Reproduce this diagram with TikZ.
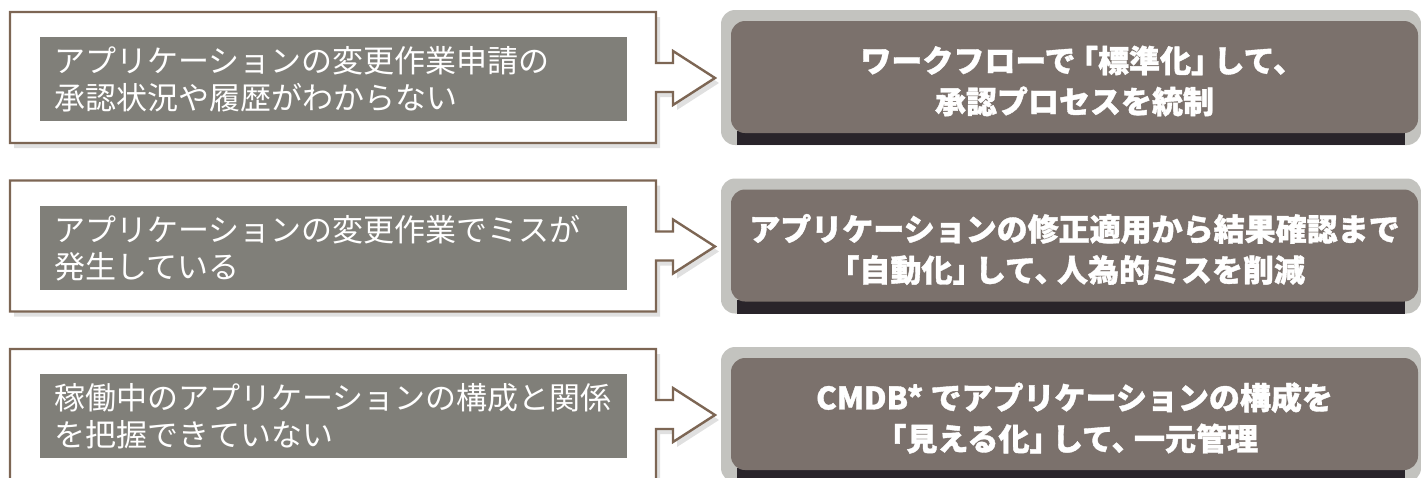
\documentclass[tikz,border=0pt]{standalone}
\usepackage{fontspec}
\setmainfont{Noto Sans CJK JP}[BoldFeatures={FakeBold=1.2}]
\usepackage{tikz}
\usetikzlibrary{shadows}
\definecolor{rimbrown}{HTML}{7D6654}
\definecolor{probgray}{HTML}{807F79}
\definecolor{solface}{HTML}{7B716C}
\definecolor{sollight}{HTML}{C3C3BF}
\definecolor{soldark}{HTML}{29242A}
\tikzset{
	arrowline/.style={draw=rimbrown, line width=2.4pt, fill=white, line join=miter,
		drop shadow={shadow xshift=4pt, shadow yshift=-5pt, opacity=0.12, fill=black}},
	probbox/.style={fill=probgray, text=white, anchor=north west, minimum width=587pt,
		minimum height=84pt, inner xsep=14pt, text width=559pt, align=left,
		font=\fontsize{31}{37}\selectfont},
	soltext/.style={text=white, align=center,
		font=\bfseries\fontsize{31}{41}\selectfont\addfontfeatures{RawFeature=+halt}}
}
\def\gap{\hspace{7pt}}
% lead arrow round the problem box, #1 = row offset
\def\leadarrow(#1){\draw[arrowline] (10,12+#1) -- (656,12+#1) -- (656,63+#1) -- (673,63+#1) -- (673,51+#1) -- (715,78+#1) -- (673,105+#1) -- (673,92+#1) -- (656,92+#1) -- (656,143+#1) -- (10,143+#1) -- cycle;}
% bevelled solution plate, #1 = row offset
\def\solplate(#1){%
	\fill[sollight, rounded corners=14pt] (721,10+#1) rectangle (1421,145+#1);
	\fill[soldark] (737,131+#1) rectangle (1405,145+#1);
	\fill[solface, rounded corners=14pt] (731,21+#1) rectangle (1418,133+#1);}

\begin{document}
\begin{tikzpicture}[x=1pt, y=-1pt]
			%%%%% START %%%%%
			\useasboundingbox (0,0) rectangle (1421,477);
			\clip (0,0) rectangle (1421,477);
			
			% row 1
			\leadarrow(0)
			\node[probbox] (prob1) at (40,37) {アプリケーションの変更作業申請の\\承認状況や履歴がわからない};
			\solplate(0)
			\node[soltext] (sol1) at (1074.5,81) {ワークフローで\gap「標準化」\gap して、\\承認プロセスを統制};
			
			% row 2
			\leadarrow(168.5)
			\node[probbox] (prob2) at (40,205.5) {アプリケーションの変更作業でミスが\\発生している};
			\solplate(168.5)
			\node[soltext] (sol2) at (1074.5,249.5) {アプリケーションの修正適用から結果確認まで\\「自動化」\gap して、\gap 人為的ミスを削減};
			
			% row 3
			\leadarrow(337)
			\node[probbox] (prob3) at (40,374) {稼働中のアプリケーションの構成と関係\\を把握できていない};
			\solplate(337)
			\node[soltext] (sol3) at (1074.5,418) {CMDB* でアプリケーションの構成を\\「見える化」\gap して、\gap 一元管理};
			
			%%%%% END %%%%%
		\end{tikzpicture}
\end{document}
